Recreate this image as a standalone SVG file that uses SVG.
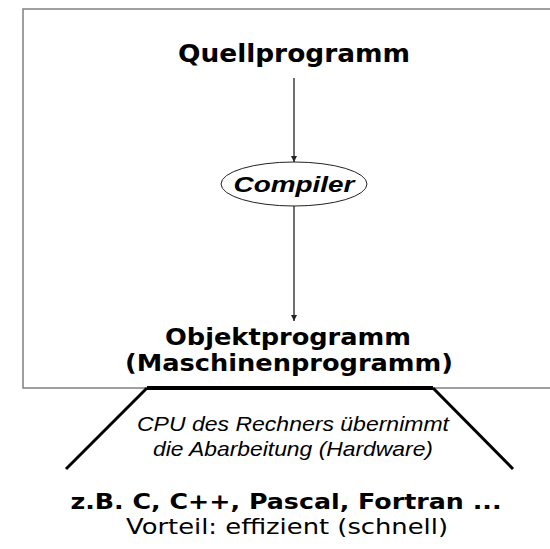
<svg xmlns="http://www.w3.org/2000/svg" width="550" height="549" viewBox="0 0 550 549">
<defs>
<style>
.bold{font-family:"DejaVu Sans",Verdana,sans-serif;font-weight:bold;fill:#000}
.reg{font-family:"DejaVu Sans",Verdana,sans-serif;fill:#000}
.ital{font-family:"Liberation Sans",Arial,sans-serif;font-style:italic;fill:#000}
.conn{stroke:#222;stroke-width:1.3;fill:none}
</style>
<marker id="ah" viewBox="0 0 10 10" refX="10" refY="5" markerWidth="6" markerHeight="6" markerUnits="userSpaceOnUse" orient="auto">
<path d="M0,0 L10,5 L0,10 z" fill="#222"/>
</marker>
</defs>
<rect width="550" height="549" fill="#fff"/>
<rect id="frame" x="23" y="9" width="540" height="379" fill="none" stroke="#808080" stroke-width="1.5"/>
<g id="quell"><text class="bold" x="294" y="62" font-size="24" text-anchor="middle" textLength="232" lengthAdjust="spacingAndGlyphs">Quellprogramm</text></g>
<g id="compiler">
<ellipse cx="294" cy="184" rx="73" ry="22" fill="#fff" stroke="#222" stroke-width="1"/>
<text class="ital" x="294" y="192" font-size="22" font-weight="bold" text-anchor="middle" textLength="121" lengthAdjust="spacingAndGlyphs">Compiler</text>
</g>
<g id="objekt">
<text class="bold" x="288" y="345" font-size="23" text-anchor="middle" textLength="246" lengthAdjust="spacingAndGlyphs">Objektprogramm</text>
<text class="bold" x="289" y="371" font-size="23" text-anchor="middle" textLength="328" lengthAdjust="spacingAndGlyphs">(Maschinenprogramm)</text>
</g>
<g id="connectors">
<line class="conn" x1="294" y1="78" x2="294" y2="162" marker-end="url(#ah)"/>
<line class="conn" x1="294" y1="206" x2="294" y2="321" marker-end="url(#ah)"/>
</g>
<g id="hardware">
<path d="M147,388 L433,388" stroke="#000" stroke-width="4" fill="none"/>
<path d="M147,388 L66,469 M433,388 L513,469" stroke="#000" stroke-width="3" fill="none"/>
<text class="ital" x="293" y="431" font-size="21" text-anchor="middle" textLength="312" lengthAdjust="spacingAndGlyphs">CPU des Rechners übernimmt</text>
<text class="ital" x="293" y="456" font-size="21" text-anchor="middle" textLength="280" lengthAdjust="spacingAndGlyphs">die Abarbeitung (Hardware)</text>
</g>
<g id="beispiele">
<text class="bold" x="286" y="509" font-size="21" text-anchor="middle" textLength="431" lengthAdjust="spacingAndGlyphs">z.B. C, C++, Pascal, Fortran ...</text>
<text class="reg" x="287" y="534" font-size="21" text-anchor="middle" textLength="322" lengthAdjust="spacingAndGlyphs">Vorteil: effizient (schnell)</text>
</g>
</svg>
